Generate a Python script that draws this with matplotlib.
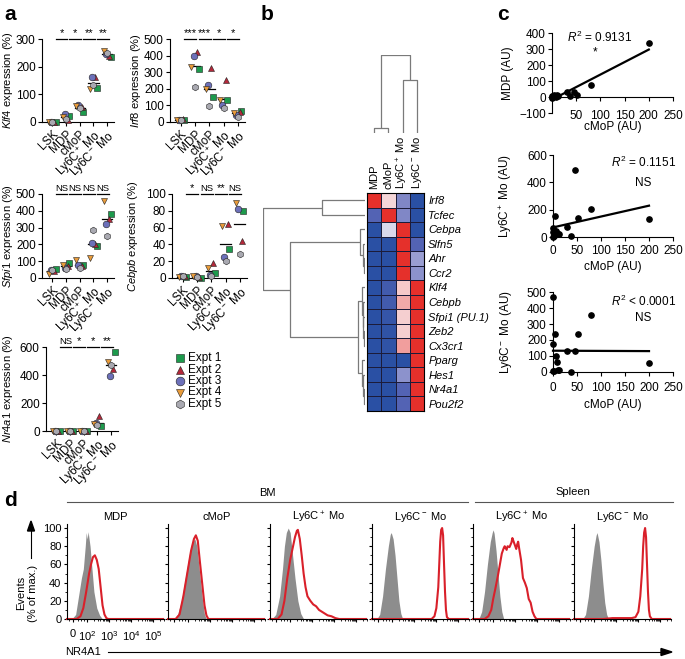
import numpy as np
import matplotlib
matplotlib.use('Agg')
import matplotlib.pyplot as plt
from matplotlib.colors import LinearSegmentedColormap

plt.rcParams['font.family'] = ['Liberation Sans', 'DejaVu Sans']
plt.rcParams['mathtext.fontset'] = 'custom'
plt.rcParams['mathtext.rm'] = 'Liberation Sans'
plt.rcParams['mathtext.it'] = 'Liberation Sans:italic'
plt.rcParams['mathtext.bf'] = 'Liberation Sans:bold'
plt.rcParams['axes.linewidth'] = 0.8
for a in ('xtick', 'ytick'):
    plt.rcParams[a + '.major.width'] = 0.8
    plt.rcParams[a + '.minor.width'] = 0.6
    plt.rcParams[a + '.major.size'] = 3
    plt.rcParams[a + '.minor.size'] = 1.6
    plt.rcParams[a + '.color'] = 'black'

# ------------------------------------------------------------------ data: panel a
cell_types = ['LSK', 'MDP', 'cMoP', 'Ly6C$^+$ Mo', 'Ly6C$^-$ Mo']
experiments = ['Expt 1', 'Expt 2', 'Expt 3', 'Expt 4', 'Expt 5']
exp_colors = ['#1d9a4c', '#b3283a', '#6c70b9', '#e89b3a', '#a9a9b1']
exp_markers = ['s', '^', 'o', 'v', 'h']
exp_offsets = [0.25, 0.15, -0.1, -0.25, 0.0]

# rows = experiments, columns = cell types
klf4_vals = [[0, 22, 35, 123, 235],
             [0, 8, 55, 162, 240],
             [0, 28, 60, 163, 245],
             [0, 18, 58, 120, 258],
             [0, 12, 50, 135, 250]]
irf8_vals = [[10, 320, 150, 130, 68],
             [20, 420, 325, 255, 60],
             [15, 400, 220, 100, 45],
             [15, 330, 200, 130, 55],
             [12, 210, 95, 85, 30]]
sfpi1_vals = [[52, 90, 80, 190, 380],
              [40, 70, 70, 200, 350],
              [45, 60, 75, 210, 320],
              [25, 80, 105, 120, 460],
              [45, 55, 60, 285, 250]]
cebpb_vals = [[1, 0, 6, 34, 80],
              [2, 1, 18, 64, 44],
              [2, 2, 4, 25, 82],
              [1, 2, 12, 62, 89],
              [2, 1, 2, 20, 29]]
nr4a1_vals = [[0, 0, 0, 35, 565],
              [0, 0, 0, 110, 440],
              [0, 0, 0, 55, 390],
              [0, 0, 0, 50, 490],
              [0, 0, 0, 40, 470]]
klf4_sig = ['*', '*', '**', '**']
irf8_sig = ['***', '***', '*', '*']
sfpi1_sig = ['NS', 'NS', 'NS', 'NS']
cebpb_sig = ['*', 'NS', '**', 'NS']
nr4a1_sig = ['NS', '*', '*', '**']
klf4_ticks = [0, 100, 200, 300]
irf8_ticks = [0, 100, 200, 300, 400, 500]
sfpi1_ticks = [0, 100, 200, 300, 400, 500]
cebpb_ticks = [0, 20, 40, 60, 80, 100]
nr4a1_ticks = [0, 200, 400, 600]

# ------------------------------------------------------------------ data: panel b
heat_genes = ['Irf8', 'Tcfec', 'Cebpa', 'Slfn5', 'Ahr', 'Ccr2', 'Klf4', 'Cebpb',
              'Sfpi1 (PU.1)', 'Zeb2', 'Cx3cr1', 'Pparg', 'Hes1', 'Nr4a1', 'Pou2f2']
heat_cells = ['MDP', 'cMoP', 'Ly6C$^+$ Mo', 'Ly6C$^-$ Mo']
heat_vals = [[1.0, 0.2, -0.45, -1.0],
             [-0.65, 1.0, -0.45, -1.0],
             [-1.0, -0.1, 1.0, -1.0],
             [-1.0, -1.0, 1.0, -0.65],
             [-1.0, -1.0, 1.0, -0.35],
             [-1.0, -1.0, 1.0, -0.4],
             [-1.0, -0.8, 0.3, 1.0],
             [-1.0, -0.8, 0.45, 1.0],
             [-1.0, -0.9, 0.25, 1.0],
             [-1.0, -0.95, 0.25, 1.0],
             [-1.0, -0.95, 0.5, 1.0],
             [-1.0, -1.0, -1.0, 1.0],
             [-1.0, -1.0, -0.4, 1.0],
             [-1.0, -1.0, -0.65, 1.0],
             [-1.0, -1.0, -0.65, 1.0]]
# linkage: (node a, node b, merge height); new nodes numbered after leaves
row_merges = [(4, 5, 0.01), (3, 15, 0.02), (2, 16, 0.045),
              (9, 10, 0.01), (8, 18, 0.015), (7, 19, 0.02), (6, 20, 0.03),
              (13, 14, 0.01), (12, 22, 0.015), (11, 23, 0.025),
              (21, 24, 0.07), (0, 1, 0.42), (17, 25, 0.735), (26, 27, 1.0)]
col_merges = [(0, 1, 0.07), (2, 3, 0.68), (4, 5, 1.0)]

# ------------------------------------------------------------------ data: panel c
cmop_au = [0, 0, 0, 2, 5, 7, 8, 10, 12, 30, 37, 45, 52, 80, 200]
mdp_au = [-5, 0, 5, 5, 10, 5, 0, 10, 5, 30, 5, 30, 15, 72, 335]
ly6cp_au = [65, 40, 0, 10, 155, 45, 30, 25, 20, 75, 5, 490, 140, 205, 135]
ly6cn_au = [470, 175, 5, 5, 240, 100, 65, 10, 10, 130, 0, 130, 240, 355, 55]
r2_texts = ['$R^2$ = 0.9131', '$R^2$ = 0.1151', '$R^2$ < 0.0001']
r2_sig = ['*', 'NS', 'NS']

# ------------------------------------------------------------------ data: panel d
hist_titles = ['MDP', 'cMoP', 'Ly6C$^+$ Mo', 'Ly6C$^-$ Mo', 'Ly6C$^+$ Mo', 'Ly6C$^-$ Mo']
gray_x = [[5, 9, 12, 15, 17, 19, 20, 21, 22, 24, 26, 28, 31, 34, 37],
          [6, 10, 14, 18, 22, 25, 28, 30, 33, 36, 38, 40],
          [2, 6, 10, 13, 15, 17, 19, 21, 23, 26, 29, 32, 35],
          [5, 8, 11, 14, 17, 19, 20, 22, 24, 26, 28, 30, 32],
          [6, 9, 12, 15, 18, 20, 21, 22, 24, 26, 28, 30, 32],
          [9, 12, 15, 18, 21, 23, 24, 26, 28, 30, 32, 34, 36]]
gray_y = [[0, 5, 25, 45, 55, 80, 95, 88, 96, 80, 55, 30, 12, 4, 0],
          [0, 5, 20, 45, 70, 85, 88, 80, 50, 20, 5, 0],
          [0, 5, 25, 55, 80, 95, 100, 95, 75, 45, 20, 6, 0],
          [0, 5, 25, 55, 80, 93, 95, 88, 70, 45, 20, 6, 0],
          [0, 8, 30, 60, 85, 95, 98, 94, 75, 50, 25, 8, 0],
          [0, 5, 25, 55, 80, 92, 95, 85, 65, 40, 18, 5, 0]]
red_x = [[0, 10, 14, 17, 20, 23, 25, 27, 29, 31, 33, 35, 37, 39, 41, 43, 100],
         [0, 8, 12, 16, 20, 24, 27, 29, 31, 33, 36, 38, 40, 42, 100],
         [0, 8, 12, 15, 18, 21, 24, 26, 28, 29, 31, 33, 35, 37, 39, 42, 45, 48, 51, 54, 57, 60, 64, 68, 72, 100],
         [0, 62, 65, 67, 69, 70, 71, 72, 73, 74, 75, 76, 77, 78, 80, 100],
         [0, 12, 16, 19, 21, 23, 26, 28, 30, 32, 33, 35, 36, 38, 40, 41, 42, 44, 45, 46, 47, 48, 50, 52, 54, 56, 58, 60, 62, 64, 66, 100],
         [0, 30, 40, 50, 60, 64, 67, 69, 71, 72, 73, 74, 75, 76, 77, 78, 79, 81, 100]]
red_y = [[0, 0, 3, 12, 30, 50, 60, 68, 70, 65, 55, 35, 15, 5, 1, 0, 0],
         [0, 0, 5, 25, 50, 75, 88, 92, 86, 65, 35, 15, 4, 0, 0],
         [0, 0, 5, 20, 45, 65, 80, 90, 97, 98, 88, 70, 50, 35, 25, 20, 16, 14, 10, 8, 6, 4, 3, 1, 0, 0],
         [0, 0, 3, 12, 35, 60, 85, 98, 100, 92, 60, 30, 10, 2, 0, 0],
         [0, 0, 3, 10, 22, 32, 48, 60, 72, 78, 80, 76, 80, 79, 84, 89, 86, 80, 77, 82, 85, 78, 65, 45, 40, 34, 22, 18, 8, 3, 0, 0],
         [0, 0, 1, 1, 1, 2, 8, 25, 55, 80, 95, 100, 90, 60, 30, 10, 3, 0, 0]]
hist_xtick_labels = ['0', '10$^2$', '10$^3$', '10$^4$', '10$^5$']
hist_yticks = [0, 20, 40, 60, 80, 100]

# ------------------------------------------------------------------ figure helpers
W, H = 685, 659
fig = plt.figure(figsize=(W / 100, H / 100), dpi=100)


def add_ax(left, top, right, bottom):
    return fig.add_axes([left / W, 1 - bottom / H, (right - left) / W, (bottom - top) / H])


def ftext(x, y, s, **kw):
    return fig.text(x / W, 1 - y / H, s, **kw)


def clean(ax):
    ax.spines['top'].set_visible(False)
    ax.spines['right'].set_visible(False)


# panel letters
for lab, (x, y) in zip('abcd', [(4, 14), (261, 14), (497, 15), (4, 500)]):
    ftext(x, y, lab, fontsize=15, fontweight='bold', va='center', ha='left')

# ------------------------------------------------------------------ panel a
panel_a = [
    ('Klf4', klf4_vals, klf4_sig, klf4_ticks, (42, 39, 114, 122), 15),
    ('Irf8', irf8_vals, irf8_sig, irf8_ticks, (170, 39, 245, 122), 143),
    ('Sfpi1', sfpi1_vals, sfpi1_sig, sfpi1_ticks, (42, 194, 114, 278), 15),
    ('Cebpb', cebpb_vals, cebpb_sig, cebpb_ticks, (172, 194, 247, 278), 140),
    ('Nr4a1', nr4a1_vals, nr4a1_sig, nr4a1_ticks, (46, 347, 118, 431), 15),
]
for gene, vals, sig, ticks, box, ylab_x in panel_a:
    ax = add_ax(*box)
    clean(ax)
    vals = np.array(vals, dtype=float)
    ymax = ticks[-1]
    xs = np.arange(len(cell_types))
    for e in range(len(experiments)):
        ax.plot(xs + exp_offsets[e], vals[e], linestyle='none', marker=exp_markers[e],
                ms=4.8 if exp_markers[e] != 's' else 4.4, mfc=exp_colors[e], mec='#222222',
                mew=0.4, clip_on=False, zorder=3)
    means = vals.mean(axis=0)
    for i, m in enumerate(means):
        ax.plot([i - 0.38, i + 0.38], [m, m], color='black', lw=0.9, zorder=2, clip_on=False)
    for j, s in enumerate(sig):
        ax.plot([j + 0.25, j + 1.1], [ymax, ymax], color='black', lw=0.9, clip_on=False)
        ax.annotate(s, (j + 0.675, ymax), xytext=(0, 1.0), textcoords='offset points',
                    ha='center', va='bottom', fontsize=6.8 if s == 'NS' else 8)
    ax.set_xlim(-0.75, 4.5)
    ax.set_ylim(0, ymax)
    ax.set_yticks(ticks)
    ax.tick_params(labelsize=8.5, pad=1.5)
    ax.set_xticks(xs)
    ax.set_xticklabels(cell_types, rotation=45, ha='right', va='top', rotation_mode='anchor', fontsize=8.5)
    ax.set_ylabel(r'$\mathit{%s}$ expression (%%)' % gene, fontsize=8)
    ax.yaxis.set_label_coords((ylab_x - box[0]) / (box[2] - box[0]), 0.5)

# legend
axl = add_ax(170, 352.25, 240, 409.75)
axl.axis('off')
axl.set_xlim(0, 1)
axl.set_ylim(len(experiments) + 0.5, 0.5)
for e, name in enumerate(experiments):
    axl.plot([0.143], [e + 1], marker=exp_markers[e], ms=6.3 if exp_markers[e] != 's' else 5.8,
             mfc=exp_colors[e], mec='#222222', mew=0.4, linestyle='none', clip_on=False)
    axl.text(0.257, e + 1, name, fontsize=8.5, va='center', ha='left')

# ------------------------------------------------------------------ panel b
cmap = LinearSegmentedColormap.from_list('bwr_fig', [
    (0.0, '#2a50a4'), (0.2, '#5a66b6'), (0.35, '#a6a9d7'), (0.5, '#f2eff5'),
    (0.65, '#f6c9c9'), (0.8, '#ef8b89'), (1.0, '#e5302b')])
hb = (367, 193, 424, 411)
axh = add_ax(*hb)
axh.pcolormesh(np.array(heat_vals), cmap=cmap, vmin=-1, vmax=1, edgecolors='#1c1c3a', linewidth=0.6)
axh.set_xlim(0, len(heat_cells))
axh.set_ylim(len(heat_genes), 0)
axh.set_xticks(np.arange(len(heat_cells)) + 0.5)
axh.set_xticklabels(heat_cells, rotation=90, fontsize=8)
axh.set_yticks(np.arange(len(heat_genes)) + 0.5)
axh.set_yticklabels(heat_genes, fontsize=8, style='italic')
axh.tick_params(top=True, labeltop=True, bottom=False, labelbottom=False,
                left=False, labelleft=False, right=False, labelright=True, length=0, pad=3)
for sp in axh.spines.values():
    sp.set_linewidth(0.8)


def draw_dendro(ax, merges, n_leaves, vertical_leaves):
    pos = {i: float(i) for i in range(n_leaves)}
    hgt = {i: 0.0 for i in range(n_leaves)}
    node = n_leaves
    for a, b, h in merges:
        p = [pos[a], pos[a], pos[b], pos[b]]
        q = [hgt[a], h, h, hgt[b]]
        if vertical_leaves:
            ax.plot(p, q, color='#7a7a7a', lw=0.9, solid_capstyle='butt')
        else:
            ax.plot(q, p, color='#7a7a7a', lw=0.9, solid_capstyle='butt')
        pos[node] = (pos[a] + pos[b]) / 2
        hgt[node] = h
        node += 1


axrd = add_ax(263, 193, 365, 411)
draw_dendro(axrd, row_merges, len(heat_genes), False)
axrd.set_xlim(1.0, 0.0)
axrd.set_ylim(len(heat_genes) - 0.5, -0.5)
axrd.axis('off')

axcd = add_ax(367, 55, 424, 133)
draw_dendro(axcd, col_merges, len(heat_cells), True)
axcd.set_xlim(-0.5, len(heat_cells) - 0.5)
axcd.set_ylim(0, 1.0)
axcd.axis('off')

# ------------------------------------------------------------------ panel c
panel_c = [
    (mdp_au, 'MDP (AU)', (552, 33, 673, 113), (-100, 400), [-100, 0, 100, 200, 300, 400],
     [50, 100, 150, 200, 250], (99, 373), (89, 280), 6.5, 127),
    (ly6cp_au, 'Ly6C$^+$ Mo (AU)', (553, 155, 673, 237), (0, 600), [0, 200, 400, 600],
     [0, 50, 100, 150, 200, 250], (188, 545), (188, 395), 2.5, 267),
    (ly6cn_au, 'Ly6C$^-$ Mo (AU)', (553, 292, 673, 372), (0, 500), [0, 100, 200, 300, 400, 500],
     [0, 50, 100, 150, 200, 250], (188, 440), (188, 335), 4.5, 405),
]
for k, (yv, ylab, box, ylim, yt, xt, r2pos, sigpos, xpad, lab_y) in enumerate(panel_c):
    ax = add_ax(*box)
    clean(ax)
    ax.spines['bottom'].set_position(('data', 0))
    x = np.array(cmop_au, dtype=float)
    y = np.array(yv, dtype=float)
    ax.plot(x, y, 'o', color='black', ms=3.8, clip_on=False, zorder=3)
    slope, icpt = np.polyfit(x, y, 1)
    xl = np.array([x.min(), x.max()])
    ax.plot(xl, slope * xl + icpt, color='black', lw=1.6, clip_on=False)
    ax.set_xlim(0, 250)
    ax.set_ylim(*ylim)
    ax.set_yticks(yt)
    ax.set_yticklabels(['\u2212100' if v < 0 else str(v) for v in yt])
    ax.set_xticks(xt)
    ax.tick_params(labelsize=8.5, pad=1.5)
    ax.tick_params(axis='x', pad=xpad)
    ax.set_ylabel(ylab, fontsize=8.5, labelpad=2)
    ax.yaxis.set_label_coords((514 - box[0]) / (box[2] - box[0]), 0.5)
    ax.text(*r2pos, r2_texts[k], fontsize=8.5, ha='center', va='center')
    ax.text(*sigpos, r2_sig[k], fontsize=8.5, ha='center', va='center')
    ftext((box[0] + box[2]) / 2, lab_y, 'cMoP (AU)', fontsize=8.5, ha='center', va='center')

# ------------------------------------------------------------------ panel d
hist_lefts = [67, 168, 270, 372, 473, 574]
major_pos = [6, 21, 44, 67, 90]
minor_pos = [2, 11, 15, 18]
for d0 in (21, 44, 67):
    minor_pos += [d0 + 23 * np.log10(m) for m in range(2, 10)]
minor_pos += [90 + 23 * np.log10(m) for m in range(2, 4)]
for i, L in enumerate(hist_lefts):
    ax = add_ax(L, 524.4, L + 97, 619)
    clean(ax)
    ax.fill_between(gray_x[i], gray_y[i], 0, color='#8d8d8d', lw=0, zorder=1)
    ax.plot(red_x[i], red_y[i], color='#d9202a', lw=1.5, zorder=2, clip_on=False)
    ax.set_xlim(0, 100)
    ax.set_ylim(0, 104)
    ax.set_yticks(hist_yticks)
    ax.set_yticks([10, 30, 50, 70, 90], minor=True)
    ax.set_xticks(major_pos)
    ax.set_xticks(minor_pos, minor=True)
    ax.tick_params(labelsize=8, pad=1.5)
    ax.tick_params(axis='both', which='major', length=2.5)
    if i == 0:
        ax.set_xticklabels(hist_xtick_labels)
        ax.tick_params(axis='x', pad=5)
    else:
        ax.set_xticklabels([])
        ax.set_yticklabels([])
    ftext(L + 48.5, 517, hist_titles[i], fontsize=8, ha='center', va='center')

ftext(267, 493, 'BM', fontsize=8, ha='center', va='center')
ftext(573, 492, 'Spleen', fontsize=8, ha='center', va='center')
fig.add_artist(plt.Line2D([67 / W, 468 / W], [1 - 502 / H, 1 - 502 / H], color='#555555', lw=0.8))
fig.add_artist(plt.Line2D([475 / W, 673 / W], [1 - 502 / H, 1 - 502 / H], color='#555555', lw=0.8))

ftext(27, 622, 'Events\n(% of max.)', fontsize=8, rotation=90, ha='center', va='bottom',
      multialignment='center')
fig.add_artist(plt.Line2D([31 / W, 31 / W], [1 - 558 / H, 1 - 530 / H], color='black', lw=0.8))
fig.add_artist(matplotlib.patches.Polygon([[27.5 / W, 1 - 531 / H], [34.5 / W, 1 - 531 / H],
                                           [31 / W, 1 - 521 / H]], closed=True, color='black',
                                          transform=fig.transFigure))
ftext(65, 652, 'NR4A1', fontsize=8, ha='left', va='center')
fig.add_artist(plt.Line2D([108 / W, 662 / W], [1 - 652 / H, 1 - 652 / H], color='black', lw=0.8))
fig.add_artist(matplotlib.patches.Polygon([[661 / W, 1 - 648.5 / H], [661 / W, 1 - 655.5 / H],
                                           [672 / W, 1 - 652 / H]], closed=True, color='black',
                                          transform=fig.transFigure))

fig.savefig('out.png', dpi=100)
